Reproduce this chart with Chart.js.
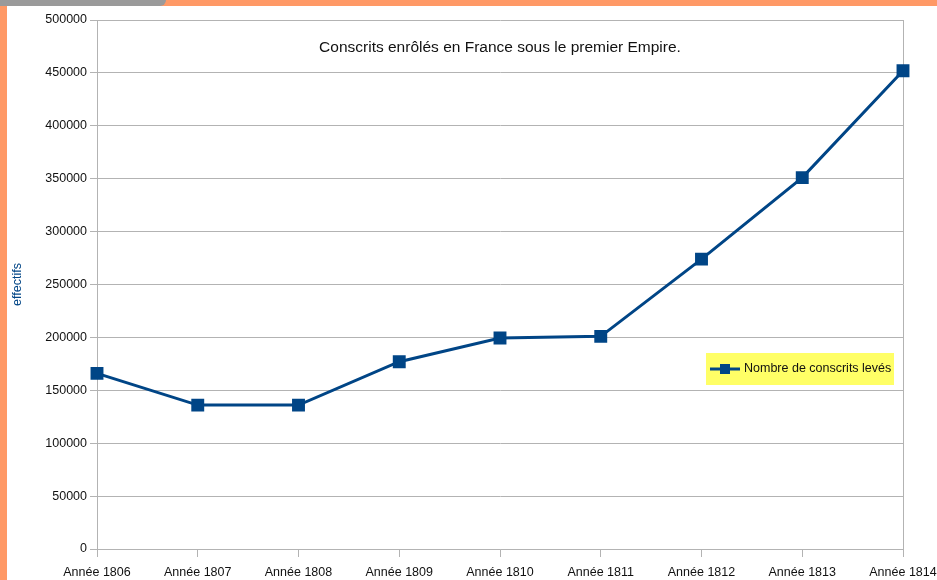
<!DOCTYPE html>
<html>
<head>
<meta charset="utf-8">
<script src="https://cdn.jsdelivr.net/npm/chart.js@4"></script>
<style>
  html, body { margin: 0; padding: 0; }
  body { width: 937px; height: 580px; background: #ff9966; position: relative; overflow: hidden; }
  .gray { position: absolute; left: 0; top: 0; width: 166px; height: 6px; background: #9a9a9a; border-bottom-right-radius: 6px; }
  .page { position: absolute; left: 7px; top: 6px; right: 0; bottom: 0; background: #fff; }
  #chart { position: absolute; left: 0; top: 0; }
</style>
</head>
<body>
<div class="gray"></div>
<div class="page"></div>
<canvas id="chart" width="937" height="580"></canvas>
<script>
const years = ["Année 1806", "Année 1807", "Année 1808", "Année 1809", "Année 1810",
   "Année 1811", "Année 1812", "Année 1813", "Année 1814"]
const conscrits = [166000, 136000, 136000, 177000, 199500, 201000, 274000, 351000, 452000]
const seriesName = "Nombre de conscrits levés"
const chartTitle = "Conscrits enrôlés en France sous le premier Empire."
const yTitle = "effectifs"

const font = "'Liberation Sans', Arial, sans-serif"
const blue = "#004586"
const gridColor = "#b3b3b3"
const textColor = "#111"

// title, right border and legend box are drawn inside the plot area
const insidePlot = {
   id: "insidePlot",
   beforeDatasetsDraw(chart) {
      const ctx = chart.ctx
      const a = chart.chartArea
      ctx.save()
      ctx.strokeStyle = gridColor
      ctx.lineWidth = 1
      ctx.beginPath()
      ctx.moveTo(a.right + 0.5, a.top)
      ctx.lineTo(a.right + 0.5, a.bottom)
      ctx.stroke()
      ctx.restore()
   },
   afterDraw(chart) {
      const ctx = chart.ctx
      const a = chart.chartArea
      ctx.save()
      ctx.fillStyle = textColor
      ctx.font = "15.5px " + font
      ctx.textAlign = "center"
      ctx.textBaseline = "middle"
      ctx.fillText(chartTitle, (a.left + a.right) / 2, a.top + 28)

      const lx = a.right - 197, ly = a.top + 333
      ctx.fillStyle = "#ffff66"
      ctx.fillRect(lx, ly, 188, 32)
      ctx.strokeStyle = blue
      ctx.lineWidth = 3
      ctx.beginPath()
      ctx.moveTo(lx + 4, ly + 16)
      ctx.lineTo(lx + 34, ly + 16)
      ctx.stroke()
      ctx.fillStyle = blue
      ctx.fillRect(lx + 14, ly + 11, 10, 10)
      ctx.fillStyle = textColor
      ctx.font = "12.5px " + font
      ctx.textAlign = "left"
      ctx.fillText(seriesName, lx + 38, ly + 16)
      ctx.restore()
   }
}

new Chart(document.getElementById("chart"), {
   type: "line",
   data: {
      labels: years,
      datasets: [{
         label: seriesName,
         data: conscrits,
         borderColor: blue,
         backgroundColor: blue,
         borderWidth: 3,
         pointStyle: "rect",
         pointRadius: 7,
         pointHoverRadius: 7,
         tension: 0,
         clip: false,
      }]
   },
   options: {
      responsive: false,
      animation: false,
      layout: {
         padding: { left: 8, right: 0, top: 20, bottom: 0 }
      },
      plugins: {
         legend: { display: false },
         tooltip: { enabled: false }
      },
      scales: {
         x: {
            offset: false,
            grid: {
               drawOnChartArea: false,
               color: gridColor,
               tickLength: 8,
            },
            border: { color: gridColor },
            ticks: {
               color: textColor,
               font: { size: 12.5, family: font },
               padding: 8,
               maxRotation: 0,
               autoSkip: false,
            },
            afterFit: (scale) => {
               scale.height = 31
               scale.paddingRight = 34
            }
         },
         y: {
            min: 0,
            max: 500000,
            grid: {
               color: gridColor,
               tickLength: 7,
            },
            border: { color: gridColor },
            ticks: {
               stepSize: 50000,
               color: textColor,
               font: { size: 12.5, family: font },
               padding: 3,
               callback: (v) => String(v),
            },
            title: {
               display: true,
               text: yTitle,
               color: blue,
               font: { size: 12.5, family: font },
               padding: 2,
            },
            afterFit: (scale) => { scale.width = 89 }
         }
      }
   },
   plugins: [insidePlot]
})
</script>
</body>
</html>
